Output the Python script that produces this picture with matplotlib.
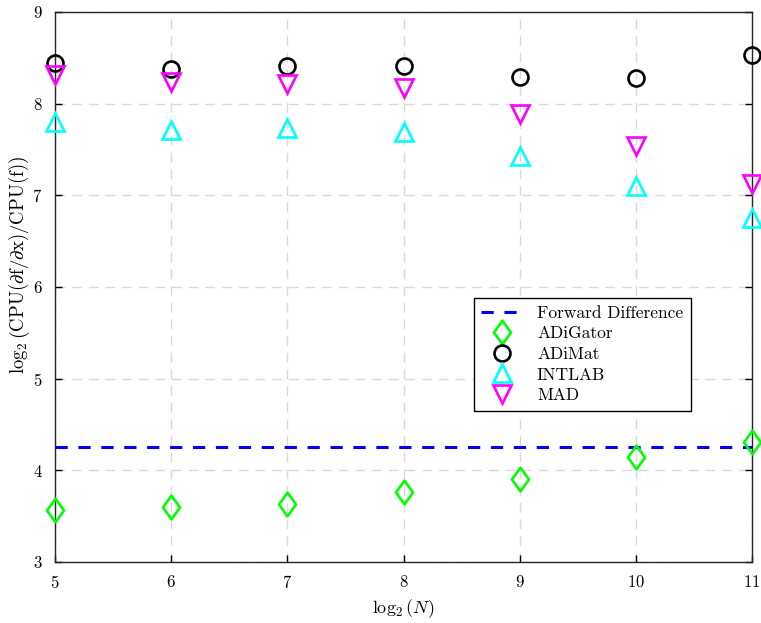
import matplotlib
matplotlib.use("Agg")
import matplotlib.pyplot as plt
from matplotlib.path import Path

plt.rcParams['font.family'] = 'serif'
plt.rcParams['font.serif'] = ['cmr10', 'DejaVu Serif']
plt.rcParams['mathtext.fontset'] = 'cm'
plt.rcParams['axes.formatter.use_mathtext'] = True

log2_n = [5, 6, 7, 8, 9, 10, 11]
forward_difference = 4.25
adigator = [3.57, 3.60, 3.63, 3.76, 3.91, 4.15, 4.31]
adimat = [8.44, 8.38, 8.41, 8.41, 8.29, 8.28, 8.53]
intlab = [7.80, 7.71, 7.73, 7.69, 7.43, 7.10, 6.75]
mad = [8.31, 8.23, 8.21, 8.17, 7.89, 7.54, 7.12]

# matlab style diamond, a bit narrower than matplotlib's 'D'
diamond = Path([(0, 1), (0.72, 0), (0, -1), (-0.72, 0), (0, 1)],
               [Path.MOVETO, Path.LINETO, Path.LINETO, Path.LINETO, Path.CLOSEPOLY])


def main():
    fig = plt.figure(figsize=(7.61, 6.23), dpi=100)
    ax = fig.add_axes([0.0723, 0.098, 0.916, 0.883])

    ax.plot([5, 11], [forward_difference, forward_difference], '--', color='#0000ff',
            lw=2.2, dashes=(4, 3.5), label='Forward Difference')
    ax.plot(log2_n, adigator, marker=diamond, ls='none', ms=17, mfc='none', mec='#00ff00', mew=1.9,
            label='ADiGator', clip_on=False, zorder=5)
    ax.plot(log2_n, adimat, 'o', ms=11.5, mfc='none', mec='black', mew=1.9,
            label='ADiMat', clip_on=False, zorder=5)
    ax.plot(log2_n, intlab, '^', ms=13, mfc='none', mec='#00ffff', mew=1.9,
            label='INTLAB', clip_on=False, zorder=5)
    ax.plot(log2_n, mad, 'v', ms=13, mfc='none', mec='#ff00ff', mew=1.9,
            label='MAD', clip_on=False, zorder=5)

    ax.set_xlim(5, 11)
    ax.set_ylim(3, 9)
    ax.set_xticks(range(5, 12))
    ax.set_yticks(range(3, 10))
    ax.tick_params(direction='in', length=5, width=1, labelsize=12, pad=9, top=False, right=True)
    ax.grid(True, color='#d9d9d9', linestyle=(0, (7, 5)), lw=1)
    for s in ax.spines.values():
        s.set_linewidth(1)
        s.set_color('#262626')

    ax.set_xlabel(r'$\log_2(N)$', fontsize=13, labelpad=4)
    ax.set_ylabel(r'$\log_2\left(\mathrm{CPU}(\partial \mathrm{f}/\partial \mathrm{x})/\mathrm{CPU}(\mathrm{f})\right)$',
                  fontsize=13.5)
    ax.yaxis.set_label_coords(-0.033, 0.54)

    leg = ax.legend(loc='upper left', bbox_to_anchor=(0.588, 0.496), fontsize=12.5,
                    fancybox=False, framealpha=1, edgecolor='black',
                    handlelength=2.4, labelspacing=0.3, borderpad=0.45)
    leg.get_frame().set_linewidth(1)

    fig.savefig('out.png', dpi=100)


if __name__ == "__main__":
    main()
